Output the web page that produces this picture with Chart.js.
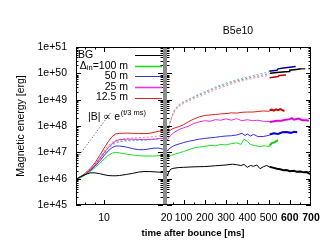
<!DOCTYPE html>
<html><head><meta charset="utf-8">
<script src="https://cdn.jsdelivr.net/npm/chart.js@4.4.0/dist/chart.umd.min.js"></script>
<style>html,body{margin:0;padding:0;background:#fff;overflow:hidden}canvas{display:block}</style>
</head><body>
<canvas id="c" width="320" height="252" style="width:320px;height:252px"></canvas>
<script>
// ---------- data (values are log10 of magnetic energy in erg) ----------
const leftT = [7.2, 7.6, 8.0, 8.5, 9.0, 9.5, 10, 10.5, 11, 11.5, 12, 13, 14, 15, 16, 17, 18, 19, 20];
const bgLeft   = [45.98,46.08,46.15,46.22,46.22,46.19,46.15,46.12,46.11,46.11,46.12,46.16,46.2,46.25,46.27,46.27,46.26,46.25,46.23];
const g100Left = [45.96,46.04,46.13,46.27,46.42,46.58,46.74,46.88,46.97,47.0,46.98,46.93,46.9,46.87,46.86,46.86,46.86,46.88,46.88];
const b50Left  = [45.96,46.05,46.15,46.3,46.47,46.66,46.87,47.05,47.18,47.24,47.24,47.2,47.14,47.1,47.1,47.13,47.16,47.16,47.12];
const m25Left  = [45.97,46.06,46.16,46.33,46.52,46.75,46.98,47.18,47.33,47.43,47.48,47.5,47.5,47.49,47.48,47.49,47.5,47.52,47.52];
const r12Left  = [45.97,46.08,46.2,46.38,46.6,46.88,47.15,47.4,47.6,47.7,47.72,47.73,47.72,47.72,47.71,47.72,47.76,47.8,47.8];
const pinkLeft = [45.97,46.07,46.18,46.35,46.55,46.8,47.05,47.25,47.38,47.46,47.5,47.53,47.55,47.56,47.57,47.58,47.6,47.62,47.64];
const cyanLeft = [45.96,46.05,46.15,46.3,46.48,46.7,46.92,47.12,47.27,47.35,47.4,47.43,47.44,47.45,47.46,47.47,47.49,47.51,47.53];
const grayLeft = [45.96,46.06,46.16,46.32,46.5,46.74,46.97,47.17,47.3,47.38,47.42,47.45,47.46,47.47,47.48,47.49,47.5,47.52,47.52];
const growthT = [7.2, 10.8];
const growthV = [46.72, 48.5];

const bgRT = [20,25,30,40,50,75,100,150,200,250,300,330,350,370,385,400,415,430,445,460,475,490,505];
const bgR  = [46.23,46.1,46.25,46.36,46.39,46.42,46.43,46.45,46.46,46.49,46.52,46.55,46.53,46.5,46.54,46.43,46.5,46.47,46.52,46.38,46.45,46.5,46.45];
const bgKT = [505,520,540,555,570,585,600,620,633,650,665,680,690,700];
const bgK  = [46.45,46.42,46.38,46.36,46.32,46.33,46.28,46.3,46.26,46.27,46.24,46.25,46.2,46.17];

const gRT = [20,25,30,40,60,80,100,125,150,175,200,225,250,275,300,325,350,370,385,400,415,440,460,480,505];
const gR  = [46.88,46.75,46.82,46.88,46.93,46.98,47.03,47.1,47.17,47.2,47.23,47.26,47.25,47.3,47.28,47.33,47.36,47.3,47.5,47.42,47.3,47.25,47.22,47.25,47.22];
const gKT = [505,515,530,540,545];
const gK  = [47.25,47.35,47.38,47.44,47.45];

const bRT = [20,25,30,40,50,60,80,100,125,150,175,200,225,250,275,300,325,350,375,390,400,415,430,450,475,505];
const bR  = [47.12,47.05,47.12,47.18,47.23,47.27,47.32,47.37,47.42,47.46,47.5,47.53,47.55,47.57,47.6,47.62,47.63,47.66,47.72,47.64,47.7,47.62,47.68,47.6,47.6,47.65];
const bKT = [505,525,545,565,585,605,620,635];
const bK  = [47.68,47.72,47.7,47.76,47.77,47.74,47.78,47.76];

const mRT = [20,25,30,40,50,60,80,100,125,150,175,200,225,250,275,300,325,350,375,400,425,450,475,505];
const mR  = [47.52,47.48,47.55,47.65,47.72,47.78,47.87,47.93,48.0,48.1,48.16,48.2,48.18,48.24,48.22,48.27,48.22,48.28,48.2,48.24,48.2,48.22,48.18,48.17];
const mKT = [505,520,540,560,580,600,610,620,640,660,680,690];
const mK  = [48.15,48.17,48.2,48.2,48.24,48.26,48.3,48.24,48.28,48.22,48.22,48.2];

const rRT = [20,25,30,40,50,60,80,100,125,150,175,200,225,250,275,300,325,350,375,400,425,450,475,505];
const rR  = [47.8,47.75,47.78,47.85,47.9,47.93,47.98,48.05,48.17,48.27,48.35,48.4,48.42,48.44,48.46,48.47,48.5,48.49,48.52,48.53,48.53,48.55,48.57,48.56];
const rKT = [505,515,525,535,545,555,565,575];
const rK  = [48.6,48.62,48.58,48.63,48.6,48.64,48.6,48.57];

const upT   = [20,25,30,40,50,60,80,100,125,150,175,200,250,300,350,400,450,505];
const cyanR = [47.53,47.75,47.95,48.25,48.48,48.65,48.82,48.92,49.02,49.12,49.22,49.3,49.48,49.63,49.76,49.86,49.96,50.06];
const grayR = [47.52,47.72,47.92,48.22,48.45,48.62,48.8,48.9,49.0,49.09,49.18,49.26,49.44,49.58,49.71,49.81,49.9,49.99];
const pinkR = [47.64,47.8,47.95,48.2,48.42,48.58,48.75,48.85,48.95,49.04,49.12,49.2,49.38,49.52,49.66,49.76,49.85,49.92];
const navyT = [503,520,540,545,570,600,628];
const navyV = [50.08,50.1,50.12,50.17,50.2,50.23,50.26];
const blkUpT = [507,540,580,598,600,630,655];
const blkUpV = [50.0,50.03,50.06,50.07,50.12,50.15,50.17];
const blkDashT = [655,700];
const blkDashV = [50.17,50.18];
const drUpT = [505,530,545,550,582];
const drUpV = [49.83,49.86,49.88,49.92,49.94];

const yTickExp = [45,46,47,48,49,50,51];
const leftXTicks = [10];
const rightXTicks = [20,100,200,300,400,500,600,700];
const legendNames = ['BG','100 m','50 m','25 m','12.5 m'];
const legendColors = ['#000000','#22dd22','#3333d8','#ee33ee','#dd2222'];
const legendWidths = [1,1.6,1,1.6,1];

// ---------- chart ----------
const FONT = "'Liberation Sans', Arial, Helvetica, sans-serif";
Chart.defaults.font.family = FONT;
Chart.defaults.font.size = 10.5;
Chart.defaults.color = '#000';

const pts = (ts, vs) => ts.map((t, i) => ({x: t, y: Math.pow(10, vs[i])}));
function ds(axis, ts, vs, color, width, dash) {
  return {xAxisID: axis, yAxisID: 'y', data: pts(ts, vs), borderColor: color,
    borderWidth: width, borderDash: dash || [], pointRadius: 0, fill: false, tension: 0};
}

const datasets = [
  ds('xL', leftT, bgLeft, '#000000', 1),
  ds('xL', leftT, g100Left, '#22dd22', 1),
  ds('xL', leftT, b50Left, '#3030e0', 1),
  ds('xL', leftT, m25Left, '#e030e0', 1),
  ds('xL', leftT, r12Left, '#e02020', 1),
  ds('xL', leftT, pinkLeft, '#f09090', 1, [2,2]),
  ds('xL', leftT, cyanLeft, '#70b8c8', 1, [2,2]),
  ds('xL', leftT, grayLeft, '#9090a8', 1, [2,2]),
  ds('xL', growthT, growthV, '#505050', 1, [1,2]),

  ds('xR', bgRT, bgR, '#000000', 1),
  ds('xR', gRT, gR, '#22dd22', 1),
  ds('xR', bRT, bR, '#3030e0', 1),
  ds('xR', mRT, mR, '#e030e0', 1),
  ds('xR', rRT, rR, '#e02020', 1),
  ds('xR', upT, pinkR, '#f09090', 1, [2,2]),
  ds('xR', upT, grayR, '#8888a0', 1, [2,2]),
  ds('xR', upT, cyanR, '#70b8c8', 1, [2,2]),
  ds('xR', bgKT, bgK, '#000000', 2),
  ds('xR', gKT, gK, '#18cc18', 2),
  ds('xR', bKT, bK, '#0000cc', 2),
  ds('xR', mKT, mK, '#dd00dd', 2),
  ds('xR', rKT, rK, '#cc0000', 2),
  ds('xR', navyT, navyV, '#000090', 1.5),
  ds('xR', blkUpT, blkUpV, '#000000', 1.5),
  ds('xR', blkDashT, blkDashV, '#000000', 1.2, [4,3]),
  ds('xR', drUpT, drUpV, '#b80000', 1.5)
];

const decor = {
  id: 'decor',
  afterDatasetsDraw(chart) {
    const ctx = chart.ctx, ca = chart.chartArea;
    const y = chart.scales.y, xL = chart.scales.xL, xR = chart.scales.xR;
    const barL = Math.round(xL.right), barR = Math.round(xR.getPixelForValue(20));
    ctx.save();
    ctx.fillStyle = '#8c8c8c';
    ctx.fillRect(barL, ca.top, barR - barL, ca.bottom - ca.top);
    ctx.strokeStyle = '#000'; ctx.lineWidth = 1;
    const line = (x1, y1, x2, y2) => { ctx.beginPath(); ctx.moveTo(x1, y1); ctx.lineTo(x2, y2); ctx.stroke(); };
    // y ticks (log minors)
    for (let e = 45; e <= 51; e++) {
      for (let m = 1; m <= 9; m++) {
        const v = m * Math.pow(10, e);
        if (v > 1e51 * 1.0001) break;
        const py = Math.round(y.getPixelForValue(v)) + 0.5;
        const len = m === 1 ? 5 : 2.5;
        line(ca.left, py, ca.left + len, py);
        line(barL - len, py, barL, py);
        line(barR, py, barR + len, py);
        line(ca.right - len, py, ca.right, py);
      }
    }
    // x ticks
    const xt = (sc, v, len) => {
      const px = Math.round(sc.getPixelForValue(v)) + 0.5;
      line(px, ca.bottom, px, ca.bottom - len);
      line(px, ca.top, px, ca.top + len);
    };
    [8, 9].forEach(v => xt(xL, v, 2.5));
    xt(xL, 10, 5);
    [100,200,300,400,500,600].forEach(v => xt(xR, v, 5));
    [50,150,250,350,450,550,650].forEach(v => xt(xR, v, 2.5));
    // frame
    ctx.strokeRect(ca.left + 0.5, ca.top + 0.5, ca.right - ca.left - 1, ca.bottom - ca.top - 1);
    ctx.restore();
  },
  afterDraw(chart) {
    const ctx = chart.ctx;
    ctx.save();
    ctx.fillStyle = '#000';
    // axis titles
    ctx.font = '10.5px ' + FONT;
    ctx.textAlign = 'center'; ctx.textBaseline = 'middle';
    ctx.save(); ctx.translate(21, 126); ctx.rotate(-Math.PI / 2);
    ctx.fillText('Magnetic energy [erg]', 0, 0); ctx.restore();
    ctx.fillText('B5e10', 238, 31);
    ctx.font = 'bold 9.6px ' + FONT;
    ctx.fillText('time after bounce [ms]', 193, 233);
    // legend
    const rows = [55, 65.7, 76.3, 87, 97.6];
    ctx.textBaseline = 'middle';
    for (let i = 0; i < legendNames.length; i++) {
      const yy = rows[i];
      ctx.font = '10.5px ' + FONT;
      if (i === 0) {
        ctx.textAlign = 'left';
        ctx.fillText(legendNames[i], 78, yy);
      } else if (i === 1) {
        ctx.textAlign = 'right';
        const main = '=' + legendNames[i];
        ctx.fillText(main, 128, yy);
        let xr = 128 - ctx.measureText(main).width;
        ctx.font = '7.5px ' + FONT;
        ctx.fillText('in', xr, yy + 2.5);
        xr -= ctx.measureText('in').width;
        ctx.font = '10.5px ' + FONT;
        ctx.fillText('\u0394', xr, yy);
      } else {
        ctx.textAlign = 'right';
        ctx.fillText(legendNames[i], 128, yy);
      }
      ctx.strokeStyle = legendColors[i];
      ctx.lineWidth = legendWidths[i];
      ctx.beginPath(); ctx.moveTo(135, Math.round(yy) + 0.5); ctx.lineTo(162, Math.round(yy) + 0.5); ctx.stroke();
    }
    // growth annotation
    ctx.textAlign = 'left'; ctx.textBaseline = 'alphabetic';
    ctx.font = '10.5px ' + FONT;
    const ann = '|B| \u221D e';
    ctx.fillText(ann, 88, 120);
    const aw = ctx.measureText(ann).width;
    ctx.font = '7.5px ' + FONT;
    ctx.fillText('(t/3 ms)', 88 + aw + 0.5, 115);
    ctx.restore();
  }
};

const noGrid = {display: false, drawTicks: false};
new Chart(document.getElementById('c'), {
  type: 'line',
  data: {datasets},
  plugins: [decor],
  options: {
    responsive: false, animation: false, devicePixelRatio: 1,
    layout: {padding: {top: 47, right: 9, bottom: 0, left: 0}},
    plugins: {legend: {display: false}, tooltip: {enabled: false}, title: {display: false}},
    scales: {
      xL: {type: 'logarithmic', position: 'bottom', stack: 'x', stackWeight: 87, min: 7.2, max: 20,
        grid: noGrid, border: {display: false},
        ticks: {padding: 7, maxRotation: 0, autoSkip: false, callback: v => String(v)},
        afterBuildTicks: s => { s.ticks = leftXTicks.map(v => ({value: v})); },
        afterFit: s => { s.height = 47; s.paddingLeft = 0; s.paddingRight = 0; }},
      xR: {type: 'linear', position: 'bottom', stack: 'x', stackWeight: 148, min: 3.5, max: 700,
        grid: noGrid, border: {display: false},
        ticks: {padding: 7, maxRotation: 0, autoSkip: false, callback: v => String(v),
          font: c => ({family: FONT, size: 10.5, weight: (c.tick && c.tick.value >= 600) ? 'bold' : 'normal'})},
        afterBuildTicks: s => { s.ticks = rightXTicks.map(v => ({value: v})); },
        afterFit: s => { s.height = 47; s.paddingLeft = 0; s.paddingRight = 0; }},
      y: {type: 'logarithmic', position: 'left', min: 1e45, max: 1e51,
        grid: noGrid, border: {display: false},
        ticks: {padding: 9, autoSkip: false, callback: v => '1e+' + Math.round(Math.log10(v))},
        afterBuildTicks: s => { s.ticks = yTickExp.map(e => ({value: Math.pow(10, e)})); },
        afterFit: s => { s.width = 76; s.paddingTop = 0; s.paddingBottom = 0; }}
    }
  }
});
</script></body></html>
